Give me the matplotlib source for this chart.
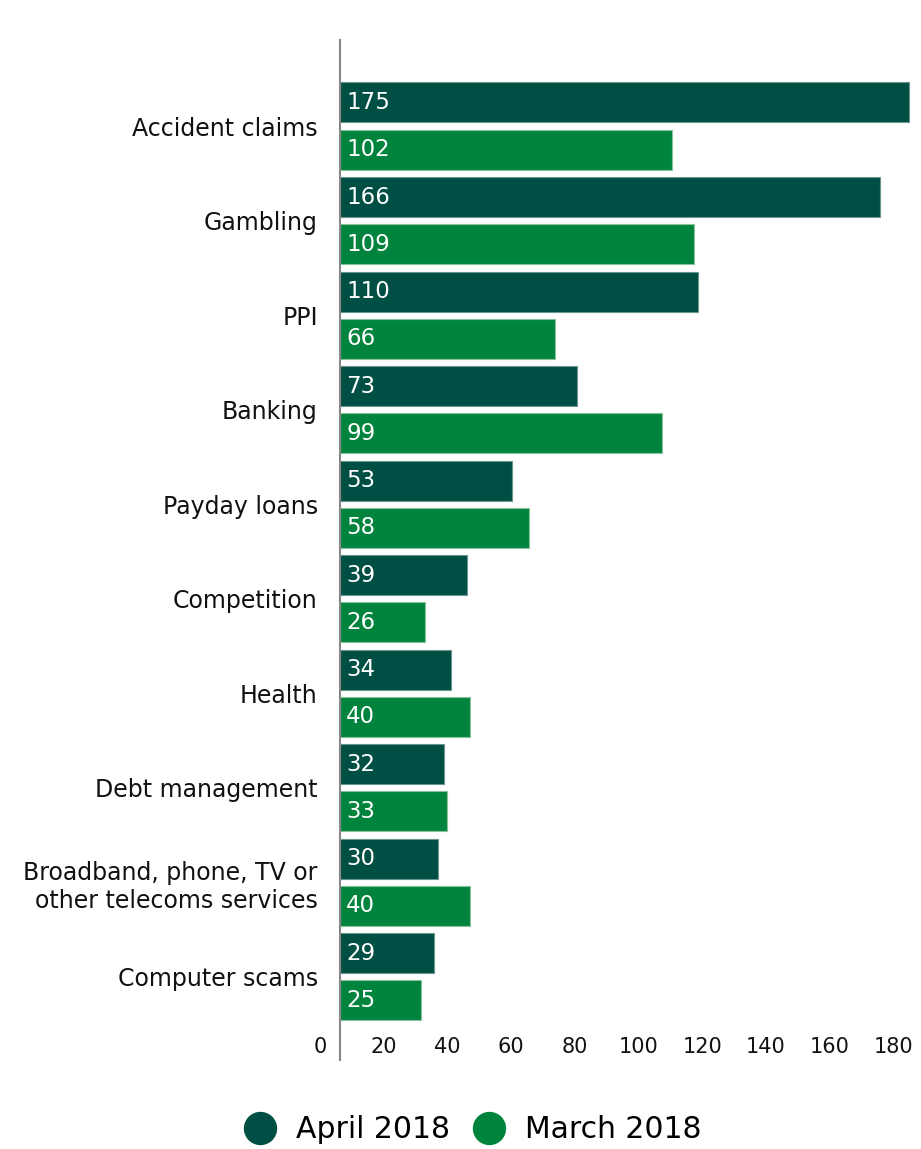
import matplotlib
matplotlib.use("Agg")
import matplotlib.pyplot as plt
import matplotlib.transforms as mtransforms
from matplotlib.lines import Line2D
import numpy as np

categories = [
    "Accident claims",
    "Gambling",
    "PPI",
    "Banking",
    "Payday loans",
    "Competition",
    "Health",
    "Debt management",
    "Broadband, phone, TV or\nother telecoms services",
    "Computer scams",
]
april_2018 = [175, 166, 110, 73, 53, 39, 34, 32, 30, 29]
march_2018 = [102, 109, 66, 99, 58, 26, 40, 33, 40, 25]
series_names = ["April 2018", "March 2018"]
x_tick_values = [0, 20, 40, 60, 80, 100, 120, 140, 160, 180]

dark_green = "#004F45"
green = "#00843D"

plt.rcParams["font.family"] = ["DejaVu Sans"]

fig = plt.figure(figsize=(9.21, 11.49), dpi=100)
ax = fig.add_axes([340 / 921, 1 - 1060 / 1149, 1 - 340 / 921, 1020 / 1149])

y = np.arange(len(categories))
h = 0.423
off = 0.249

ax.barh(y - off, april_2018, height=h, color=dark_green,
        edgecolor="#6a968e", linewidth=0.8)
ax.barh(y + off, march_2018, height=h, color=green,
        edgecolor="#86c39c", linewidth=0.8)

px_offset = mtransforms.offset_copy(ax.transData, fig=fig, x=6, y=0, units="dots")
for yy, v in zip(y - off, april_2018):
    ax.text(0, yy, str(v), transform=px_offset, color="white", fontsize=16.5,
            va="center", ha="left")
for yy, v in zip(y + off, march_2018):
    ax.text(0, yy, str(v), transform=px_offset, color="white", fontsize=16.5,
            va="center", ha="left")

ax.set_xlim(0, (921 - 340) / 3.25)
ax.set_ylim(9.88, -0.91)

ax.set_yticks(y)
ax.set_yticklabels(categories, fontsize=17, color="#111111")
ax.tick_params(axis="y", length=0, pad=16)
for lbl in ax.get_yticklabels():
    lbl.set_horizontalalignment("right")
    lbl.set_multialignment("right")

# value-axis labels, spread evenly along the bottom
ax.set_xticks([])
trans = mtransforms.blended_transform_factory(ax.transData, fig.transFigure)
for i, v in enumerate(x_tick_values):
    xpos = -6.15 + 19.6 * i
    ax.text(xpos, 1 - 1047 / 1149, str(v), transform=trans, fontsize=15,
            ha="center", va="center", color="#111111", clip_on=False)

for s in ["top", "right", "bottom"]:
    ax.spines[s].set_visible(False)
ax.spines["left"].set_color("#888888")
ax.spines["left"].set_linewidth(1.5)

handles = [
    Line2D([0], [0], marker="o", linestyle="", markersize=23,
           markerfacecolor=dark_green, markeredgecolor=dark_green),
    Line2D([0], [0], marker="o", linestyle="", markersize=23,
           markerfacecolor=green, markeredgecolor=green),
]
fig.legend(handles, series_names, loc="center", ncol=2, frameon=False,
           bbox_to_anchor=(466 / 921, 1 - 1130 / 1149), fontsize=21.5,
           handletextpad=0.2, columnspacing=0.3)

fig.savefig("out.png", dpi=100)
